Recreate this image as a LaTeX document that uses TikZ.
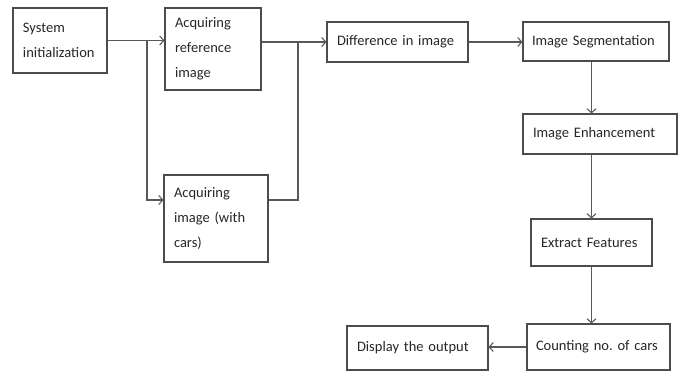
\documentclass[tikz,border=0pt]{standalone}
\usepackage{fontspec}
\setmainfont{Carlito}
\usepackage{tikz}
\usetikzlibrary{arrows.meta,positioning}

\tikzset{
	blk/.style={draw=black!70,line width=1.1pt,rectangle,align=left,inner xsep=10pt,
		text=black!85,font=\fontsize{14.5}{25}\selectfont},
	arr/.style={draw=black!65,line width=1.1pt,-{Straight Barb[length=4pt,width=9pt]}},
	lnk/.style={draw=black!65,line width=1.1pt}
}

\begin{document}
\frenchspacing
\begin{tikzpicture}[x=1pt,y=-1pt]
	\useasboundingbox (0,0) rectangle (683,372);
	% left column
	\node[blk,text width=74,minimum height=65] (sys) at (60,40.5) {System\\initialization};
	\node[blk,text width=76,minimum height=82] (ref) at (213,49) {Acquiring\\reference\\image};
	\node[blk,text width=84,minimum height=87] (cars) at (216,218.5) {Acquiring\\image (with\\cars)};
	% top row
	\node[blk,text width=121,minimum height=40] (diff) at (397.5,42) {Difference in image};
	\node[blk,text width=128,inner xsep=9pt,minimum height=39] (seg) at (596,41.5) {Image Segmentation};
	% right column
	\node[blk,text width=134,minimum height=40] (enh) at (600,134) {Image Enhancement};
	\node[blk,text width=101,minimum height=47] (ext) at (591.5,242.5) {Extract Features};
	\node[blk,text width=125,inner xsep=9pt,minimum height=46] (count) at (598.5,347) {Counting no.\ of cars};
	\node[blk,text width=121,minimum height=44] (disp) at (417.5,348) {Display the output};
	% junctions
	\coordinate (j1) at (147,40.5);
	\coordinate (j2) at (298,42);
	% connectors
	\draw[arr] (sys.east) -- (sys.east -| ref.west);
	\draw[arr] (j1) |- ([yshift=18.5pt]cars.west);
	\draw[arr] (diff.west -| ref.east) -- (diff.west);
	\draw[lnk] ([yshift=18.5pt]cars.east) -| (j2);
	\draw[arr] (diff.east) -- (diff.east -| seg.west);
	\draw[arr] (seg.south -| ext) -- (enh.north -| ext);
	\draw[arr] (enh.south -| ext) -- (ext.north);
	\draw[arr] (ext.south) -- (count.north -| ext);
	\draw[arr] (count.west) -- (count.west -| disp.east);
\end{tikzpicture}
\end{document}
